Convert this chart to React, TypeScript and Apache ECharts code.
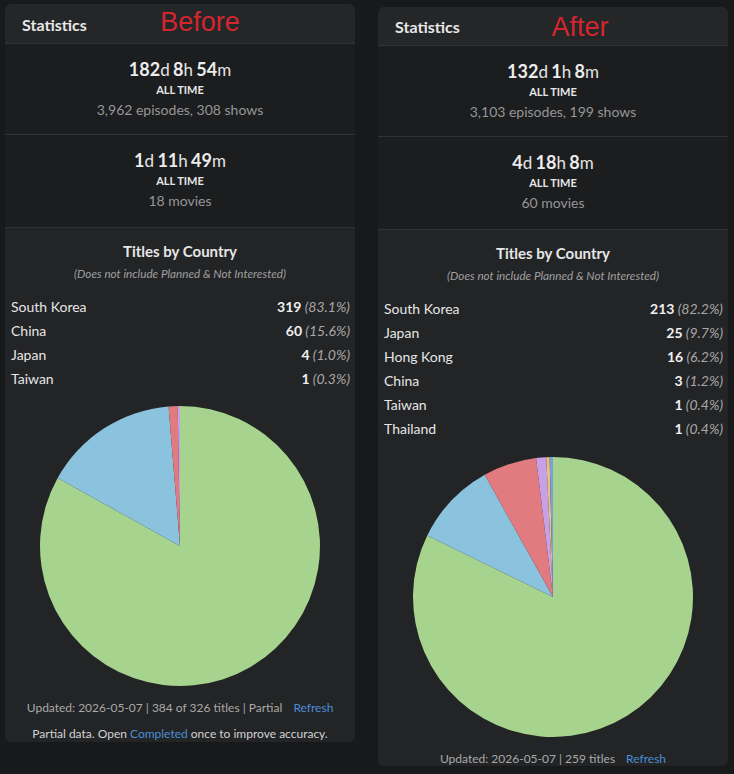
import React, { useEffect, useRef } from "react";
import * as echarts from "echarts";

// ---------- data ----------
const beforeShowsTime = [182, 8, 54]; // d, h, m
const beforeShowsInfo = [3962, 308]; // episodes, shows
const beforeMoviesTime = [1, 11, 49];
const beforeMovies = 18;
const beforeCountries = ["South Korea", "China", "Japan", "Taiwan"];
const beforeCounts = [319, 60, 4, 1];
const beforePct = ["83.1%", "15.6%", "1.0%", "0.3%"];
const beforeFooter = "Updated: 2026-05-07 | 384 of 326 titles | Partial";

const afterShowsTime = [132, 1, 8];
const afterShowsInfo = [3103, 199];
const afterMoviesTime = [4, 18, 8];
const afterMovies = 60;
const afterCountries = ["South Korea", "Japan", "Hong Kong", "China", "Taiwan", "Thailand"];
const afterCounts = [213, 25, 16, 3, 1, 1];
const afterPct = ["82.2%", "9.7%", "6.2%", "1.2%", "0.4%", "0.4%"];
const afterFooter = "Updated: 2026-05-07 | 259 titles";

const sliceColors = ["#a6d38d", "#8bc2de", "#e27b80", "#c8a0e6", "#e9c183", "#7e9fd8"];

// ---------- styles ----------
const FONT = 'Lato, "Noto Sans", sans-serif';
const PAGE_BG = "#18191b";
const PANEL_BG = "#232426";
const HEADER_BG = "#252628";
const STATS_BG = "#1c1d1f";
const LINE = "#313234";

const fmt = (n: number) => n.toLocaleString("en-US");

function timeRich(t: number[]) {
  return `{n|${t[0]}}{u|d} {n|${t[1]}}{u|h} {n|${t[2]}}{u|m}`;
}

function buildPanel(
  x0: number,
  y0: number,
  top: number,
  bottom: number,
  label: string,
  labelDx: number,
  labelDy: number,
  showsTime: number[],
  showsInfo: number[],
  moviesTime: number[],
  movies: number,
  countries: string[],
  counts: number[],
  pct: string[],
  footer: string,
  partial: boolean,
  pieDy: number
) {
  const w = 350;
  const cx = x0 + 175;
  const els: any[] = [];
  const richTime = {
    n: { fontFamily: FONT, fontSize: 18, fontWeight: "bold", fill: "#ececec" },
    u: { fontFamily: FONT, fontSize: 17, fill: "#e4e4e4" },
  };
  els.push({ type: "rect", silent: true, shape: { x: x0, y: top, width: w, height: bottom - top, r: 6 }, style: { fill: PANEL_BG } });
  els.push({ type: "rect", silent: true, shape: { x: x0, y: top, width: w, height: y0 + 39 - top, r: [6, 6, 0, 0] }, style: { fill: HEADER_BG } });
  els.push({ type: "rect", silent: true, shape: { x: x0, y: y0 + 39, width: w, height: 184 }, style: { fill: STATS_BG } });
  [39, 130, 223].forEach((dy) => {
    els.push({ type: "rect", silent: true, shape: { x: x0, y: y0 + dy, width: w, height: 1 }, style: { fill: LINE } });
  });
  els.push({ type: "text", silent: true, x: x0 + 17, y: y0 + 20, style: { text: "Statistics", font: `bold 16px ${FONT}`, fill: "#e8e8e8", align: "left", verticalAlign: "middle" } });
  els.push({ type: "text", silent: true, x: x0 + labelDx, y: labelDy, style: { text: label, font: `27px "Liberation Sans", Arial, sans-serif`, fill: "#d3262e", align: "center", verticalAlign: "middle" } });

  // stats blocks
  const block = (dy: number, t: number[], sub: string) => {
    els.push({ type: "text", silent: true, x: cx, y: y0 + dy, style: { text: timeRich(t), rich: richTime, align: "center", verticalAlign: "middle" } });
    els.push({ type: "text", silent: true, x: cx, y: y0 + dy + 20, style: { text: "ALL TIME", font: `bold 11px ${FONT}`, fill: "#e6e6e6", align: "center", verticalAlign: "middle" } });
    els.push({ type: "text", silent: true, x: cx, y: y0 + dy + 40, style: { text: sub, font: `14px ${FONT}`, fill: "#969696", align: "center", verticalAlign: "middle" } });
  };
  block(65, showsTime, `${fmt(showsInfo[0])} episodes, ${fmt(showsInfo[1])} shows`);
  block(156, moviesTime, `${movies} movies`);

  els.push({ type: "text", silent: true, x: cx, y: y0 + 247, style: { text: "Titles by Country", font: `bold 15px ${FONT}`, fill: "#e6e6e6", align: "center", verticalAlign: "middle" } });
  els.push({ type: "text", silent: true, x: cx, y: y0 + 269, style: { text: "(Does not include Planned & Not Interested)", font: `italic 11.7px ${FONT}`, fill: "#a0a0a0", align: "center", verticalAlign: "middle" } });

  countries.forEach((c, i) => {
    const y = y0 + 302 + i * 24;
    els.push({ type: "text", silent: true, x: x0 + 6, y, style: { text: c, font: `14px ${FONT}`, fill: "#e6e6e6", align: "left", verticalAlign: "middle" } });
    els.push({
      type: "text", silent: true, x: x0 + 345, y,
      style: {
        text: `{v|${counts[i]}} {p|(${pct[i]})}`,
        rich: {
          v: { fontFamily: FONT, fontSize: 14, fontWeight: "bold", fill: "#f0f0f0" },
          p: { fontFamily: FONT, fontSize: 14, fontStyle: "italic", fill: "#a8a8a8" },
        },
        align: "right", verticalAlign: "middle",
      },
    });
  });

  const pieCy = y0 + 303 + (countries.length - 1) * 24 + 167 + pieDy;
  const fy = pieCy + 161;
  els.push({
    type: "text", silent: true, x: cx, y: fy,
    style: {
      text: `{g|${footer}}{s|}{l|Refresh}`,
      rich: {
        g: { fontFamily: FONT, fontSize: 12, fill: "#a9a9a9" },
        s: { width: 11 },
        l: { fontFamily: FONT, fontSize: 12, fill: "#4a8fd6" },
      },
      align: "center", verticalAlign: "middle",
    },
  });
  if (partial) {
    els.push({
      type: "text", silent: true, x: cx, y: fy + 26,
      style: {
        text: `{g|Partial data. Open }{l|Completed}{g| once to improve accuracy.}`,
        rich: {
          g: { fontFamily: FONT, fontSize: 12, fill: "#d2d2d2" },
          l: { fontFamily: FONT, fontSize: 12, fill: "#4a8fd6" },
        },
        align: "center", verticalAlign: "middle",
      },
    });
  }
  return { els, center: [cx, pieCy] };
}

function pieSeries(center: number[], countries: string[], counts: number[]) {
  return {
    type: "pie",
    center,
    radius: 140,
    startAngle: 90,
    clockwise: true,
    silent: true,
    label: { show: false },
    labelLine: { show: false },
    emphasis: { disabled: true },
    itemStyle: { borderWidth: 0 },
    data: countries.map((c, i) => ({ name: c, value: counts[i], itemStyle: { color: sliceColors[i] } })),
  };
}

export default function App() {
  const ref = useRef<HTMLDivElement>(null);
  useEffect(() => {
    if (!ref.current) return;
    const chart = echarts.init(ref.current, undefined, { renderer: "svg" });
    const left = buildPanel(5, 4, 4, 742, "Before", 195, 22, beforeShowsTime, beforeShowsInfo, beforeMoviesTime, beforeMovies, beforeCountries, beforeCounts, beforePct, beforeFooter, true, 0);
    const right = buildPanel(378, 6, 7, 766, "After", 202, 27, afterShowsTime, afterShowsInfo, afterMoviesTime, afterMovies, afterCountries, afterCounts, afterPct, afterFooter, false, 1);
    chart.setOption({
      animation: false,
      backgroundColor: PAGE_BG,
      graphic: { elements: [...left.els, ...right.els] },
      series: [
        { ...pieSeries(left.center, beforeCountries, beforeCounts), z: 10 },
        { ...pieSeries(right.center, afterCountries, afterCounts), z: 10 },
      ],
    });
    return () => chart.dispose();
  }, []);
  return <div ref={ref} style={{ position: "fixed", left: 0, top: 0, width: 734, height: 774 }} />;
}
